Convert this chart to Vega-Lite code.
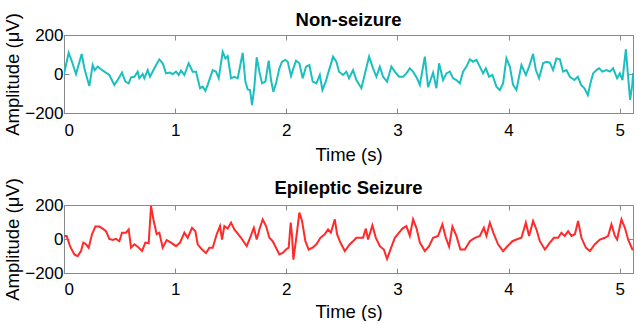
{
  "$schema": "https://vega.github.io/schema/vega-lite/v6.json",
  "padding": {"left": 3, "top": 10, "right": 0, "bottom": 0},
  "background": "white",
  "config": {
    "font": "Liberation Sans",
    "view": {"stroke": "#8a8a8a", "strokeWidth": 1},
    "axis": {"grid": false, "domainColor": "#8a8a8a", "tickColor": "#8a8a8a", "tickSize": -5, "labelPadding": 6, "labelFontSize": 17, "labelColor": "#000", "titleFontSize": 18.5, "titleFontWeight": "normal", "titleColor": "#000", "labelFont": "Liberation Sans", "titleFont": "Liberation Sans"},
    "title": {"fontSize": 18.5, "fontWeight": "bold", "font": "Liberation Sans", "color": "#000"},
    "concat": {"spacing": 13}
  },
  "datasets": {
    "non": [
      {"t":0.000,"v":0},{"t":0.042,"v":109},{"t":0.072,"v":63},{"t":0.108,"v":0},{"t":0.159,"v":103},{"t":0.183,"v":31},{"t":0.204,"v":-14},{"t":0.228,"v":-62},{"t":0.258,"v":46},{"t":0.276,"v":20},{"t":0.303,"v":38},{"t":0.333,"v":24},{"t":0.363,"v":12},{"t":0.408,"v":-5},{"t":0.453,"v":-56},{"t":0.483,"v":-31},{"t":0.522,"v":7},{"t":0.552,"v":-39},{"t":0.582,"v":-48},{"t":0.603,"v":-17},{"t":0.633,"v":-14},{"t":0.663,"v":12},{"t":0.678,"v":-22},{"t":0.708,"v":0},{"t":0.723,"v":-22},{"t":0.753,"v":20},{"t":0.774,"v":-14},{"t":0.813,"v":29},{"t":0.858,"v":75},{"t":0.888,"v":55},{"t":0.918,"v":3},{"t":0.948,"v":7},{"t":0.978,"v":0},{"t":1.008,"v":12},{"t":1.032,"v":-5},{"t":1.053,"v":17},{"t":1.083,"v":-5},{"t":1.122,"v":55},{"t":1.158,"v":12},{"t":1.188,"v":12},{"t":1.224,"v":-73},{"t":1.248,"v":-65},{"t":1.272,"v":-86},{"t":1.293,"v":-56},{"t":1.338,"v":20},{"t":1.368,"v":12},{"t":1.392,"v":-22},{"t":1.428,"v":114},{"t":1.452,"v":80},{"t":1.473,"v":92},{"t":1.503,"v":-22},{"t":1.533,"v":-14},{"t":1.563,"v":-22},{"t":1.608,"v":109},{"t":1.632,"v":-39},{"t":1.653,"v":-79},{"t":1.674,"v":-82},{"t":1.692,"v":-159},{"t":1.713,"v":-65},{"t":1.734,"v":86},{"t":1.758,"v":12},{"t":1.782,"v":-48},{"t":1.812,"v":-39},{"t":1.842,"v":68},{"t":1.863,"v":-31},{"t":1.884,"v":-91},{"t":1.908,"v":-48},{"t":1.938,"v":29},{"t":1.962,"v":63},{"t":1.992,"v":72},{"t":2.013,"v":63},{"t":2.043,"v":-10},{"t":2.064,"v":29},{"t":2.088,"v":68},{"t":2.118,"v":55},{"t":2.148,"v":-22},{"t":2.178,"v":38},{"t":2.208,"v":46},{"t":2.238,"v":-39},{"t":2.271,"v":-48},{"t":2.302,"v":-5},{"t":2.325,"v":-82},{"t":2.355,"v":-39},{"t":2.385,"v":20},{"t":2.421,"v":89},{"t":2.451,"v":63},{"t":2.475,"v":12},{"t":2.511,"v":-5},{"t":2.541,"v":12},{"t":2.565,"v":-22},{"t":2.601,"v":20},{"t":2.631,"v":-31},{"t":2.676,"v":-73},{"t":2.716,"v":20},{"t":2.745,"v":89},{"t":2.781,"v":29},{"t":2.811,"v":-14},{"t":2.842,"v":38},{"t":2.871,"v":-14},{"t":2.907,"v":-39},{"t":2.946,"v":38},{"t":2.977,"v":12},{"t":3.015,"v":-14},{"t":3.051,"v":-14},{"t":3.081,"v":3},{"t":3.112,"v":29},{"t":3.141,"v":12},{"t":3.177,"v":-22},{"t":3.202,"v":-56},{"t":3.247,"v":89},{"t":3.276,"v":-68},{"t":3.321,"v":7},{"t":3.351,"v":-73},{"t":3.375,"v":55},{"t":3.411,"v":-31},{"t":3.441,"v":3},{"t":3.472,"v":12},{"t":3.501,"v":-22},{"t":3.531,"v":-31},{"t":3.562,"v":-48},{"t":3.591,"v":12},{"t":3.621,"v":38},{"t":3.652,"v":75},{"t":3.681,"v":63},{"t":3.711,"v":72},{"t":3.742,"v":38},{"t":3.771,"v":3},{"t":3.796,"v":29},{"t":3.825,"v":-14},{"t":3.855,"v":-5},{"t":3.891,"v":-65},{"t":3.922,"v":-82},{"t":3.951,"v":-48},{"t":3.981,"v":80},{"t":4.012,"v":38},{"t":4.041,"v":-56},{"t":4.071,"v":-82},{"t":4.116,"v":46},{"t":4.156,"v":-5},{"t":4.185,"v":38},{"t":4.221,"v":103},{"t":4.246,"v":20},{"t":4.275,"v":-22},{"t":4.311,"v":55},{"t":4.341,"v":63},{"t":4.372,"v":58},{"t":4.401,"v":20},{"t":4.431,"v":80},{"t":4.462,"v":75},{"t":4.491,"v":12},{"t":4.521,"v":20},{"t":4.552,"v":-14},{"t":4.593,"v":-31},{"t":4.624,"v":-14},{"t":4.653,"v":-56},{"t":4.683,"v":-73},{"t":4.714,"v":-108},{"t":4.737,"v":-48},{"t":4.761,"v":3},{"t":4.791,"v":20},{"t":4.815,"v":29},{"t":4.845,"v":12},{"t":4.881,"v":20},{"t":4.912,"v":12},{"t":4.941,"v":29},{"t":4.977,"v":-22},{"t":5.002,"v":3},{"t":5.025,"v":-31},{"t":5.056,"v":127},{"t":5.076,"v":-14},{"t":5.094,"v":-133},{"t":5.115,"v":-48},{"t":5.12,"v":5}
    ],
    "sz": [
      {"t":0.003,"v":18},{"t":0.024,"v":18},{"t":0.054,"v":-42},{"t":0.093,"v":-91},{"t":0.123,"v":-101},{"t":0.153,"v":-71},{"t":0.174,"v":-21},{"t":0.198,"v":-31},{"t":0.222,"v":-51},{"t":0.252,"v":28},{"t":0.282,"v":73},{"t":0.318,"v":73},{"t":0.348,"v":61},{"t":0.378,"v":46},{"t":0.408,"v":1},{"t":0.438,"v":-6},{"t":0.468,"v":1},{"t":0.498,"v":-13},{"t":0.522,"v":37},{"t":0.558,"v":37},{"t":0.582,"v":56},{"t":0.603,"v":-51},{"t":0.633,"v":-31},{"t":0.663,"v":-45},{"t":0.702,"v":-71},{"t":0.732,"v":-21},{"t":0.762,"v":-25},{"t":0.783,"v":194},{"t":0.804,"v":116},{"t":0.834,"v":28},{"t":0.858,"v":37},{"t":0.888,"v":-51},{"t":0.924,"v":-6},{"t":0.963,"v":-21},{"t":1.008,"v":-42},{"t":1.044,"v":-21},{"t":1.083,"v":37},{"t":1.113,"v":7},{"t":1.152,"v":66},{"t":1.182,"v":46},{"t":1.203,"v":-31},{"t":1.242,"v":-62},{"t":1.278,"v":-82},{"t":1.308,"v":-51},{"t":1.338,"v":-51},{"t":1.374,"v":28},{"t":1.404,"v":76},{"t":1.422,"v":-3},{"t":1.443,"v":76},{"t":1.473,"v":61},{"t":1.503,"v":96},{"t":1.533,"v":56},{"t":1.593,"v":7},{"t":1.644,"v":-42},{"t":1.674,"v":7},{"t":1.708,"v":66},{"t":1.734,"v":-3},{"t":1.758,"v":56},{"t":1.788,"v":116},{"t":1.818,"v":76},{"t":1.848,"v":7},{"t":1.878,"v":-13},{"t":1.908,"v":-51},{"t":1.938,"v":-91},{"t":1.968,"v":-82},{"t":1.998,"v":-62},{"t":2.022,"v":-51},{"t":2.040,"v":96},{"t":2.052,"v":18},{"t":2.064,"v":-121},{"t":2.088,"v":-3},{"t":2.118,"v":155},{"t":2.142,"v":106},{"t":2.172,"v":-13},{"t":2.202,"v":-62},{"t":2.240,"v":-50},{"t":2.271,"v":-31},{"t":2.307,"v":7},{"t":2.346,"v":28},{"t":2.376,"v":56},{"t":2.401,"v":37},{"t":2.437,"v":116},{"t":2.457,"v":28},{"t":2.487,"v":-21},{"t":2.527,"v":-71},{"t":2.572,"v":-31},{"t":2.601,"v":-13},{"t":2.631,"v":7},{"t":2.662,"v":7},{"t":2.691,"v":7},{"t":2.716,"v":61},{"t":2.736,"v":-3},{"t":2.775,"v":80},{"t":2.806,"v":7},{"t":2.842,"v":-42},{"t":2.878,"v":-62},{"t":2.907,"v":-117},{"t":2.937,"v":-62},{"t":2.977,"v":7},{"t":3.015,"v":37},{"t":3.045,"v":61},{"t":3.081,"v":76},{"t":3.112,"v":18},{"t":3.141,"v":116},{"t":3.171,"v":66},{"t":3.202,"v":-21},{"t":3.247,"v":-71},{"t":3.285,"v":-42},{"t":3.321,"v":7},{"t":3.366,"v":18},{"t":3.405,"v":86},{"t":3.436,"v":7},{"t":3.465,"v":-45},{"t":3.495,"v":73},{"t":3.531,"v":18},{"t":3.567,"v":-62},{"t":3.607,"v":-62},{"t":3.652,"v":-13},{"t":3.697,"v":7},{"t":3.742,"v":18},{"t":3.778,"v":66},{"t":3.801,"v":18},{"t":3.832,"v":96},{"t":3.868,"v":28},{"t":3.906,"v":-31},{"t":3.951,"v":-71},{"t":3.996,"v":-38},{"t":4.035,"v":-13},{"t":4.071,"v":-3},{"t":4.116,"v":7},{"t":4.156,"v":96},{"t":4.185,"v":18},{"t":4.221,"v":106},{"t":4.251,"v":56},{"t":4.282,"v":-13},{"t":4.327,"v":-62},{"t":4.372,"v":-21},{"t":4.408,"v":7},{"t":4.446,"v":7},{"t":4.476,"v":37},{"t":4.506,"v":18},{"t":4.536,"v":46},{"t":4.566,"v":18},{"t":4.597,"v":28},{"t":4.626,"v":106},{"t":4.656,"v":7},{"t":4.696,"v":-51},{"t":4.732,"v":-71},{"t":4.777,"v":-31},{"t":4.822,"v":-3},{"t":4.867,"v":7},{"t":4.896,"v":18},{"t":4.926,"v":86},{"t":4.957,"v":18},{"t":4.977,"v":-3},{"t":5.016,"v":116},{"t":5.047,"v":66},{"t":5.076,"v":-3},{"t":5.115,"v":-62},{"t":5.12,"v":-65}
    ]
  },
  "vconcat": [
    {
      "title": {"text": "Non-seizure", "offset": -17},
      "width": 569,
      "height": 78,
      "data": {"name": "non"},
      "layer": [
        {
          "mark": {"type": "line", "color": "#1cbfbf", "strokeWidth": 2, "clip": true},
          "encoding": {
            "x": {"field": "t", "type": "quantitative", "scale": {"domain": [0, 5.12], "nice": false}, "axis": {"values": [0, 1, 2, 3, 4, 5], "title": "Time (s)", "labelPadding": 14, "titlePadding": 7}},
            "y": {"field": "v", "type": "quantitative", "scale": {"domain": [-200, 200], "nice": false}, "axis": {"values": [-200, 0, 200], "title": "Amplitude (μV)", "titlePadding": 2}}
          }
        },
        {
          "mark": {"type": "line", "opacity": 0},
          "encoding": {
            "x": {"field": "t", "type": "quantitative", "scale": {"domain": [0, 5.12], "nice": false}, "axis": {"orient": "top", "values": [0, 1, 2, 3, 4, 5], "labels": false, "title": null}},
            "y": {"field": "v", "type": "quantitative", "scale": {"domain": [-200, 200], "nice": false}, "axis": {"orient": "right", "values": [-200, 0, 200], "labels": false, "title": null}}
          }
        }
      ],
      "resolve": {"axis": {"x": "independent", "y": "independent"}}
    },
    {
      "title": {"text": "Epileptic Seizure", "offset": -20},
      "width": 569,
      "height": 68,
      "data": {"name": "sz"},
      "layer": [
        {
          "mark": {"type": "line", "color": "#ff2a2a", "strokeWidth": 2, "clip": true},
          "encoding": {
            "x": {"field": "t", "type": "quantitative", "scale": {"domain": [0, 5.12], "nice": false}, "axis": {"values": [0, 1, 2, 3, 4, 5], "title": "Time (s)", "labelPadding": 13, "titlePadding": 5}},
            "y": {"field": "v", "type": "quantitative", "scale": {"domain": [-200, 200], "nice": false}, "axis": {"values": [-200, 0, 200], "title": "Amplitude (μV)", "titlePadding": 2}}
          }
        },
        {
          "mark": {"type": "line", "opacity": 0},
          "encoding": {
            "x": {"field": "t", "type": "quantitative", "scale": {"domain": [0, 5.12], "nice": false}, "axis": {"orient": "top", "values": [0, 1, 2, 3, 4, 5], "labels": false, "title": null}},
            "y": {"field": "v", "type": "quantitative", "scale": {"domain": [-200, 200], "nice": false}, "axis": {"orient": "right", "values": [-200, 0, 200], "labels": false, "title": null}}
          }
        }
      ],
      "resolve": {"axis": {"x": "independent", "y": "independent"}}
    }
  ]
}
